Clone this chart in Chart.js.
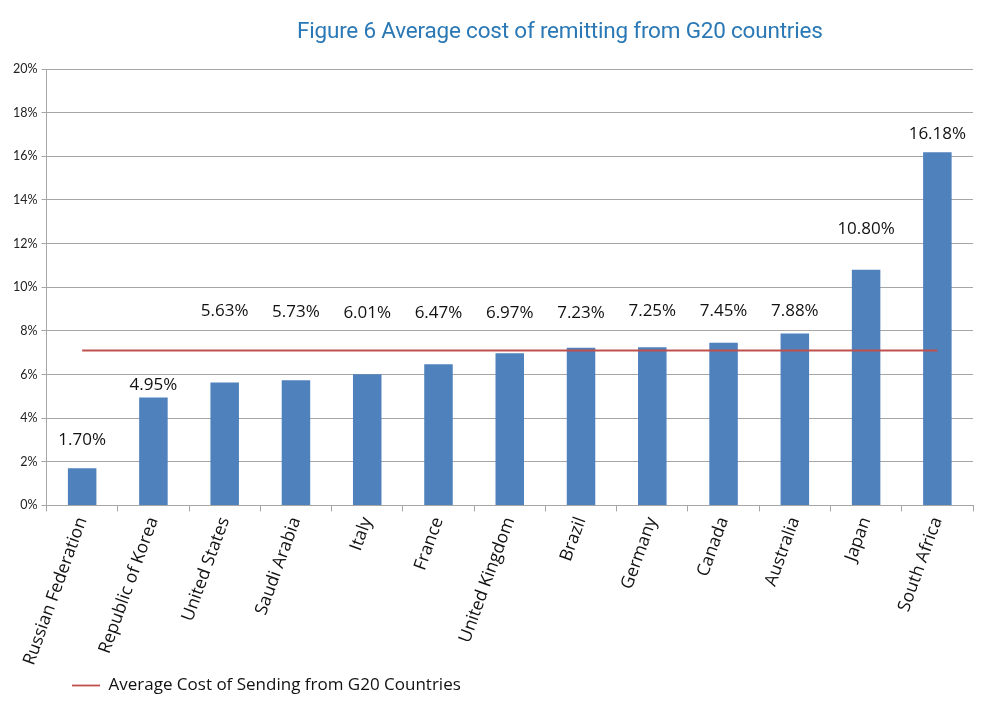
<!DOCTYPE html>
<html>
<head>
<meta charset="utf-8">
<script src="https://cdn.jsdelivr.net/npm/chart.js@4/dist/chart.umd.min.js"></script>
<style>
  html, body { margin: 0; padding: 0; background: #fff; }
  #wrap { position: relative; width: 1000px; height: 704px; }
  #title {
    position: absolute; top: 17px; left: 297px;
    font-family: "Roboto", sans-serif; font-size: 22.5px; color: #2a78b5;
    letter-spacing: -0.2px; white-space: nowrap;
  }
</style>
</head>
<body>
<div id="wrap">
  <div id="title">Figure 6 Average cost of remitting from G20 countries</div>
  <canvas id="chart" width="1000" height="704"></canvas>
</div>
<script>
// --- DATA ---
const countries = ['Russian Federation', 'Republic of Korea', 'United States', 'Saudi Arabia', 'Italy',
    'France', 'United Kingdom', 'Brazil', 'Germany', 'Canada', 'Australia', 'Japan', 'South Africa'];
const costs = [1.70, 4.95, 5.63, 5.73, 6.01, 6.47, 6.97, 7.23, 7.25, 7.45, 7.88, 10.80, 16.18];
const g20Average = [7.1, 7.1, 7.1, 7.1, 7.1, 7.1, 7.1, 7.1, 7.1, 7.1, 7.1, 7.1, 7.1];
// where each value label sits (in % units, as placed in the original)
const labelAt = [3.0, 5.5, 8.9, 8.85, 8.8, 8.8, 8.8, 8.8, 8.9, 8.9, 8.9, 12.65, 17.0];
const yTicks = [0, 2, 4, 6, 8, 10, 12, 14, 16, 18, 20];

const GRID = '#a6a6a6';

// value labels drawn above the bars
const valueLabels = {
    id: 'valueLabels',
    afterDatasetsDraw(chart) {
        const ctx = chart.ctx;
        const meta = chart.getDatasetMeta(1);
        const y = chart.scales.y;
        ctx.save();
        ctx.font = '17px "Open Sans", sans-serif';
        ctx.fillStyle = '#111';
        ctx.textAlign = 'center';
        ctx.textBaseline = 'middle';
        meta.data.forEach((bar, i) => {
            ctx.fillText(costs[i].toFixed(2) + '%', bar.x, y.getPixelForValue(labelAt[i]));
        });
        ctx.restore();
    }
};

// nudge the legend in from the left edge like the original
const legendShift = {
    id: 'legendShift',
    afterLayout(chart) {
        chart.legend.left += 57;
    }
};

new Chart(document.getElementById('chart'), {
    data: {
        labels: countries,
        datasets: [
            {
                type: 'line',
                label: 'Average Cost of Sending from G20 Countries',
                data: g20Average,
                borderColor: '#c0504d',
                backgroundColor: '#c0504d',
                borderWidth: 1.8,
                pointRadius: 0,
                order: 0
            },
            {
                type: 'bar',
                label: 'Cost',
                data: costs,
                backgroundColor: '#4f81bd',
                borderWidth: 0,
                categoryPercentage: 1,
                barPercentage: 0.4,
                order: 1
            }
        ]
    },
    options: {
        responsive: false,
        animation: false,
        layout: { padding: { top: 69, right: 27, left: 9, bottom: 0 } },
        plugins: {
            legend: {
                position: 'bottom',
                align: 'start',
                labels: {
                    filter: item => item.datasetIndex === 0,
                    usePointStyle: true,
                    pointStyle: 'line',
                    pointStyleWidth: 28,
                    color: '#111',
                    padding: 6,
                    font: { family: '"Open Sans", sans-serif', size: 17 }
                }
            },
            tooltip: { enabled: false }
        },
        scales: {
            x: {
                grid: { drawOnChartArea: false, drawTicks: true, tickLength: 6, color: GRID },
                border: { color: GRID },
                ticks: {
                    minRotation: 70, maxRotation: 70,
                    color: '#111',
                    padding: 3,
                    font: { family: '"Open Sans", sans-serif', size: 17.5 }
                }
            },
            y: {
                min: 0, max: 20,
                afterBuildTicks: axis => { axis.ticks = yTicks.map(v => ({ value: v })); },
                grid: { color: GRID, tickLength: 5 },
                border: { color: GRID },
                ticks: {
                    callback: v => v + '%',
                    color: '#222',
                    padding: 4,
                    font: { family: 'Lato, sans-serif', size: 12.5 }
                }
            }
        }
    },
    plugins: [valueLabels, legendShift]
});
</script>
</body>
</html>
